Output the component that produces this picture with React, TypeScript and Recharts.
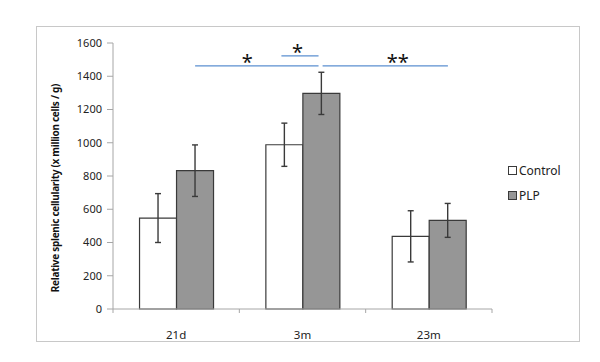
import {
  Bar,
  BarChart,
  ErrorBar,
  ReferenceDot,
  ReferenceLine,
  XAxis,
  YAxis,
} from "recharts";

const categories = ["21d", "3m", "23m"];
const controlValues = [547, 988, 437];
const controlErrors = [147, 130, 154];
const plpValues = [832, 1297, 533];
const plpErrors = [155, 127, 102];
const yTicks = [0, 200, 400, 600, 800, 1000, 1200, 1400, 1600];

// significance brackets, x in category units (0..3 across the axis)
const sigLines = [
  { x1: 0.65, x2: 1.627, y: 1463 },
  { x1: 1.333, x2: 1.627, y: 1522 },
  { x1: 1.659, x2: 2.651, y: 1463 },
];
const sigMarks = [
  { x: 1.063, y: 1485, text: "*" },
  { x: 1.46, y: 1545, text: "*" },
  { x: 2.254, y: 1485, text: "**" },
];

const rows = categories.map((c, i) => ({
  name: c,
  pos: i + 0.5,
  control: controlValues[i],
  controlErr: controlErrors[i],
  plp: plpValues[i],
  plpErr: plpErrors[i],
}));

const font = "'Noto Sans', 'Open Sans', sans-serif";
const axisGray = "#a6a6a6";
const edge = "#3a3a3a";
const plpFill = "#969696";

function LegendBox() {
  const items = [
    { label: "Control", fill: "#ffffff" },
    { label: "PLP", fill: plpFill },
  ];
  return (
    <div style={{ position: "absolute", left: 508, top: 158, fontFamily: font, fontSize: 12, color: "#222" }}>
      {items.map((it) => (
        <div key={it.label} style={{ display: "flex", alignItems: "center", height: 25 }}>
          <span
            style={{
              display: "inline-block",
              width: 7,
              height: 7,
              border: `1px solid ${edge}`,
              background: it.fill,
              marginRight: 2,
            }}
          />
          <span>{it.label}</span>
        </div>
      ))}
    </div>
  );
}

export default function App() {
  return (
    <div style={{ position: "absolute", left: 0, top: 0, width: 600, height: 362, background: "#fff" }}>
      <div
        style={{
          position: "absolute",
          left: 36,
          top: 26,
          width: 544,
          height: 316,
          border: "1px solid #c8c8c8",
          boxSizing: "border-box",
        }}
      />
      <div style={{ position: "absolute", left: 0, top: 0 }}>
        <BarChart
          width={600}
          height={362}
          data={rows}
          margin={{ top: 43, right: 108, left: 63, bottom: 23 }}
          barCategoryGap="21%"
          barGap={0}
        >
          <XAxis
            xAxisId="cat"
            dataKey="name"
            tickLine={false}
            tickSize={0}
            tickMargin={22}
            height={30}
            axisLine={{ stroke: axisGray }}
            tick={{ fill: "#222", fontSize: 11.5, fontFamily: font }}
          />
          <XAxis
            xAxisId="num"
            dataKey="pos"
            type="number"
            scale="linear"
            domain={[0, 3]}
            allowDataOverflow
            padding={{ left: 0, right: 0 }}
            hide
          />
          <YAxis
            domain={[0, 1600]}
            ticks={yTicks}
            width={50}
            tickSize={6}
            tickMargin={5}
            axisLine={{ stroke: axisGray }}
            tickLine={{ stroke: axisGray }}
            tick={{ fill: "#222", fontSize: 11, fontFamily: font }}
            interval={0}
            label={{
              content: () => (
                <text
                  x={55}
                  y={188}
                  transform="rotate(-90 55 188)"
                  textAnchor="middle"
                  dominantBaseline="central"
                  fontFamily={font}
                  fontSize={10}
                  fontWeight="bold"
                  letterSpacing={-0.3}
                  fill="#111"
                >
                  Relative splenic cellularity (x million cells / g)
                </text>
              ),
            }}
          />
          <Bar xAxisId="cat" dataKey="control" name="Control" fill="#ffffff" stroke={edge} strokeWidth={1.2} isAnimationActive={false}>
            <ErrorBar dataKey="controlErr" direction="y" width={3} stroke={edge} strokeWidth={1.4} />
          </Bar>
          <Bar xAxisId="cat" dataKey="plp" name="PLP" fill={plpFill} stroke={edge} strokeWidth={1.2} isAnimationActive={false}>
            <ErrorBar dataKey="plpErr" direction="y" width={3} stroke={edge} strokeWidth={1.4} />
          </Bar>
          {[0, 1, 2, 3].map((k) => (
            <ReferenceLine
              key={`t${k}`}
              xAxisId="num"
              ifOverflow="visible"
              segment={[
                { x: k, y: 0 },
                { x: k, y: -24 },
              ]}
              stroke={axisGray}
            />
          ))}
          {sigLines.map((s, i) => (
            <ReferenceLine
              key={`s${i}`}
              xAxisId="num"
              ifOverflow="visible"
              segment={[
                { x: s.x1, y: s.y },
                { x: s.x2, y: s.y },
              ]}
              stroke="#5b8fd0"
              strokeWidth={1.3}
            />
          ))}
          {sigMarks.map((m, i) => (
            <ReferenceDot
              key={`m${i}`}
              xAxisId="num"
              x={m.x}
              y={m.y}
              r={0}
              ifOverflow="visible"
              label={{ value: m.text, position: "center", fontSize: 20, fill: "#111", fontFamily: font }}
            />
          ))}
        </BarChart>
      </div>
      <LegendBox />
    </div>
  );
}
